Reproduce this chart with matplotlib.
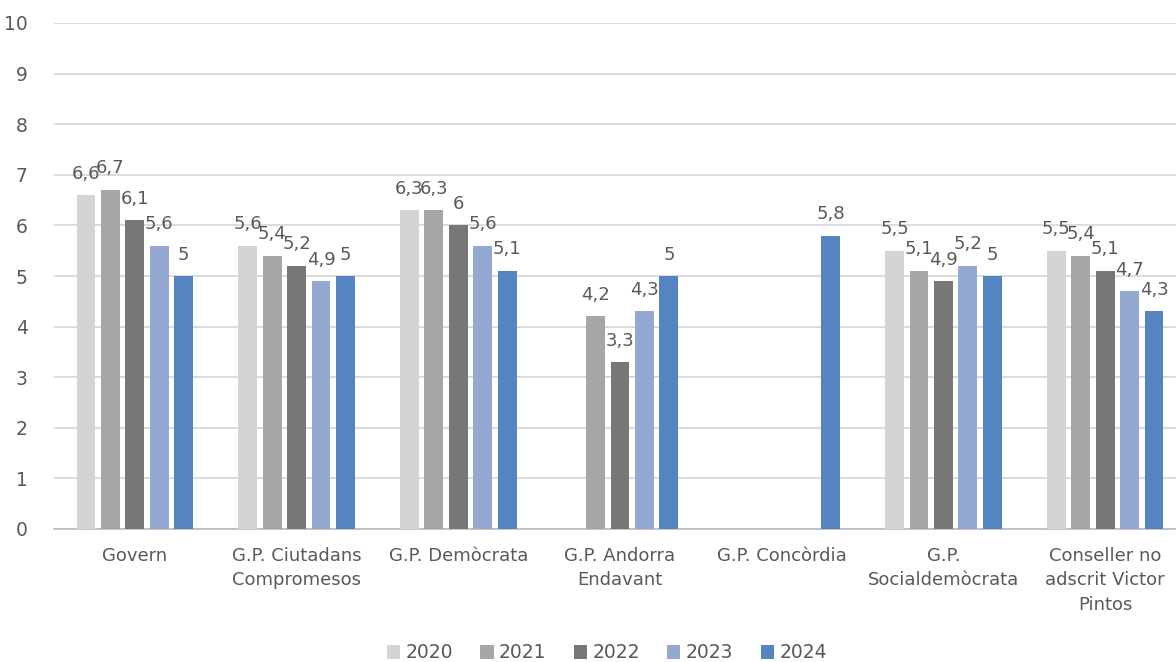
import numpy as np
import matplotlib.pyplot as plt

plt.rcParams['font.family'] = ['DejaVu Sans']

# categories and values per year (nan = no bar)
categories = ["Govern", "G.P. Ciutadans\nCompromesos", "G.P. Demòcrata",
              "G.P. Andorra\nEndavant", "G.P. Concòrdia", "G.P.\nSocialdemòcrata",
              "Conseller no\nadscrit Victor\nPintos"]
years = ["2020", "2021", "2022", "2023", "2024"]
v2020 = [6.6, 5.6, 6.3, np.nan, np.nan, 5.5, 5.5]
v2021 = [6.7, 5.4, 6.3, 4.2, np.nan, 5.1, 5.4]
v2022 = [6.1, 5.2, 6.0, 3.3, np.nan, 4.9, 5.1]
v2023 = [5.6, 4.9, 5.6, 4.3, np.nan, 5.2, 4.7]
v2024 = [5.0, 5.0, 5.1, 5.0, 5.8, 5.0, 4.3]
series = [v2020, v2021, v2022, v2023, v2024]
colors = ['#d4d4d4', '#a6a6a6', '#777777', '#93a9d1', '#5585c1']

text_col = '#595959'

fig = plt.figure(figsize=(11.76, 6.62), dpi=100)
ax = fig.add_axes([54 / 1176, 1 - 529 / 662, 1132 / 1176, 506 / 662])

x = np.arange(len(categories))
step = 0.151
width = 0.117
for i, (vals, c, yr) in enumerate(zip(series, colors, years)):
    pos = x + (i - 2) * step
    ax.bar(pos, vals, width=width, color=c, label=yr, zorder=3)
    for xp, v in zip(pos, vals):
        if np.isnan(v):
            continue
        lab = f"{v:g}".replace('.', ',')
        ax.annotate(lab, (xp, v), xytext=(0, 9), textcoords='offset points',
                    ha='center', va='bottom', fontsize=13, color=text_col, zorder=4)

ax.set_xlim(-0.5, len(categories) - 0.5)
ax.set_ylim(0, 10)
ax.set_yticks(range(0, 11))
ax.yaxis.grid(True, color='#d9d9d9', linewidth=1.3, zorder=0)
ax.set_axisbelow(True)
for s in ['top', 'right', 'left']:
    ax.spines[s].set_visible(False)
ax.spines['bottom'].set_color('#bfbfbf')
ax.spines['bottom'].set_linewidth(1.3)
ax.tick_params(axis='both', length=0, colors=text_col, labelsize=13.5)
ax.tick_params(axis='y', pad=19)
ax.tick_params(axis='x', pad=13, labelsize=13)
ax.set_xticks(x)
ax.set_xticklabels(categories, linespacing=1.45)

fig.legend(loc='center', bbox_to_anchor=(607 / 1176, 1 - 653 / 662), ncol=5,
           frameon=False, fontsize=13.5, labelcolor=text_col, handlelength=0.7,
           handleheight=0.7, handletextpad=0.3, columnspacing=1.45)

fig.savefig('out.png', dpi=100)
